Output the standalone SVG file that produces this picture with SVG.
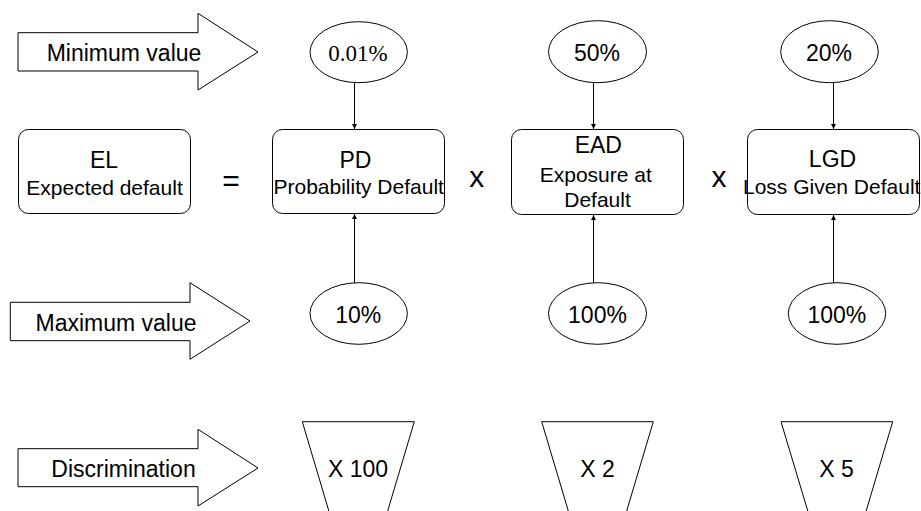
<svg xmlns="http://www.w3.org/2000/svg" width="921" height="511" viewBox="0 0 921 511">
<defs>
<style>
.s{fill:#fff;stroke:#000;stroke-width:1}
.t{font-family:"Liberation Sans",Arial,sans-serif;font-size:23px;fill:#000;text-anchor:middle}
.sub{font-size:21px}
.serif{font-family:"Liberation Serif","Times New Roman",serif}
.op{font-size:30px}
.c{stroke:#000;stroke-width:1;fill:none;marker-end:url(#ah)}
</style>
<marker id="ah" markerUnits="userSpaceOnUse" markerWidth="6" markerHeight="6" refX="5" refY="3" orient="auto">
<path d="M0,0.5 L5,3 L0,5.5 z" fill="#000"/>
</marker>
</defs>
<rect width="921" height="511" fill="#fff"/>

<g id="arrow-min">
<polygon class="s" points="18,32.7 198,32.7 198,13.3 258,52 198,90 198,71 18,71"/>
<text class="t" x="124" y="61">Minimum value</text>
</g>
<g id="arrow-max">
<polygon class="s" points="10.3,302.3 190,302.3 190,282.7 250,321 190,359.3 190,340.7 10.3,340.7"/>
<text class="t" x="116" y="331">Maximum value</text>
</g>
<g id="arrow-disc">
<polygon class="s" points="18,448.7 198,448.7 198,429.3 258,468 198,506 198,486.7 18,486.7"/>
<text class="t" x="123.5" y="477">Discrimination</text>
</g>

<g id="min-pd">
<ellipse class="s" cx="358.7" cy="52.2" rx="48.7" ry="30.5"/>
<text class="t serif" x="358" y="61">0.01%</text>
</g>
<g id="min-ead">
<ellipse class="s" cx="597.5" cy="51.7" rx="49" ry="31"/>
<text class="t" x="597" y="61">50%</text>
</g>
<g id="min-lgd">
<ellipse class="s" cx="829.5" cy="51.7" rx="48.8" ry="31"/>
<text class="t" x="829" y="61">20%</text>
</g>

<g id="el">
<rect class="s" x="18.5" y="129.5" width="172" height="84" rx="10"/>
<text class="t" x="104" y="168">EL</text>
<text class="t sub" x="104.5" y="195">Expected default</text>
</g>
<g id="eq"><text class="t op" x="231" y="191">=</text></g>
<g id="pd">
<rect class="s" x="272.5" y="129.5" width="172" height="84" rx="10"/>
<text class="t" x="355.5" y="168">PD</text>
<text class="t sub" x="358.7" y="194">Probability Default</text>
</g>
<g id="x1"><text class="t op" x="476.7" y="187">x</text></g>
<g id="ead">
<rect class="s" x="511.5" y="129.5" width="172" height="85" rx="10"/>
<text class="t" x="598.3" y="153">EAD</text>
<text class="t sub" x="595.8" y="181.5">Exposure at</text>
<text class="t sub" x="597.5" y="207">Default</text>
</g>
<g id="x2"><text class="t op" x="719" y="187">x</text></g>
<g id="lgd">
<rect class="s" x="747.5" y="129.5" width="172" height="85" rx="10"/>
<text class="t" x="832.5" y="166.5">LGD</text>
<text class="t sub" x="831.7" y="194">Loss Given Default</text>
</g>

<g id="max-pd">
<ellipse class="s" cx="358.7" cy="313.5" rx="48.7" ry="30.8"/>
<text class="t" x="358.3" y="322.7">10%</text>
</g>
<g id="max-ead">
<ellipse class="s" cx="597.5" cy="313.5" rx="49" ry="30.8"/>
<text class="t" x="597.5" y="322.7">100%</text>
</g>
<g id="max-lgd">
<ellipse class="s" cx="837" cy="313.5" rx="48.7" ry="30.8"/>
<text class="t" x="836.8" y="322.7">100%</text>
</g>

<g id="disc-pd">
<polygon class="s" points="302.3,421.7 414.3,421.7 382,530 334.5,530"/>
<text class="t" x="358" y="477">X 100</text>
</g>
<g id="disc-ead">
<polygon class="s" points="541.7,421.7 653.3,421.7 621,530 574,530"/>
<text class="t" x="597.5" y="477">X 2</text>
</g>
<g id="disc-lgd">
<polygon class="s" points="781,421.7 892.7,421.7 860.5,530 813.5,530"/>
<text class="t" x="836.5" y="477">X 5</text>
</g>

<g id="connectors">
<line class="c" x1="354.5" y1="82.7" x2="354.5" y2="129"/>
<line class="c" x1="593.5" y1="82.7" x2="593.5" y2="129"/>
<line class="c" x1="833.5" y1="82.7" x2="833.5" y2="129"/>
<line class="c" x1="354.5" y1="282.7" x2="354.5" y2="214"/>
<line class="c" x1="593.5" y1="282.7" x2="593.5" y2="215"/>
<line class="c" x1="833.5" y1="282.7" x2="833.5" y2="215"/>
</g>
</svg>
